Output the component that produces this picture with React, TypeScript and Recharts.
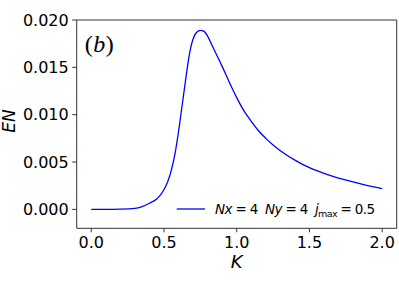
import React from 'react';
import { LineChart, Line, XAxis, YAxis } from 'recharts';

const kValues = [
  0.0, 0.1, 0.2, 0.3, 0.35, 0.4, 0.45, 0.475, 0.5, 0.525, 0.55, 0.575, 0.6, 0.625,
  0.65, 0.675, 0.7, 0.725, 0.75, 0.775, 0.8, 0.825, 0.85, 0.875, 0.9, 0.95, 1.0,
  1.05, 1.1, 1.15, 1.2, 1.25, 1.3, 1.4, 1.5, 1.6, 1.7, 1.8, 1.9, 2.0,
];
const enValues = [
  0.0, 0.0, 0.00002, 0.0001, 0.0003, 0.00065, 0.0011, 0.0015, 0.0021, 0.0029, 0.0041,
  0.0058, 0.0082, 0.011, 0.0138, 0.0164, 0.018, 0.0187, 0.0189, 0.0188, 0.0183,
  0.0175, 0.0167, 0.0159, 0.0151, 0.0134, 0.0118, 0.0104, 0.0093, 0.0083, 0.0075,
  0.0068, 0.0062, 0.0052, 0.0044, 0.0038, 0.0033, 0.0029, 0.0025, 0.0022,
];
const xTicks = [0, 0.5, 1, 1.5, 2];
const xTickLabels = ['0.0', '0.5', '1.0', '1.5', '2.0'];
const yTicks = [0, 0.005, 0.01, 0.015, 0.02];
const yTickLabels = ['0.000', '0.005', '0.010', '0.015', '0.020'];
const xDomain = [-0.1, 2.1];
const yDomain = [-0.002, 0.02];

const data = kValues.map((k, i) => ({ k, en: enValues[i] }));

const W = 399;
const H = 285;
const M_TOP = 20;
const M_RIGHT = 2.3;
const Y_AXIS_W = 76.7;
const X_AXIS_H = 56.7;
const axisColor = '#333';
const tickFont = { fill: '#000', fontSize: 16, fontFamily: 'DejaVu Sans' };

const fmtX = (v: number) => {
  const i = xTicks.findIndex((t) => Math.abs(t - v) < 1e-9);
  return i >= 0 ? xTickLabels[i] : String(v);
};
const fmtY = (v: number) => {
  const i = yTicks.findIndex((t) => Math.abs(t - v) < 1e-9);
  return i >= 0 ? yTickLabels[i] : String(v);
};

export default function App() {
  const plotRight = W - M_RIGHT;
  const plotBottom = H - X_AXIS_H;
  return (
    <div style={{ position: 'absolute', left: 0, top: 0, width: W, height: H }}>
      <LineChart
        width={W}
        height={H}
        data={data}
        margin={{ top: M_TOP, right: M_RIGHT, left: 0, bottom: 0 }}
      >
        <XAxis
          dataKey="k"
          type="number"
          domain={xDomain}
          ticks={xTicks}
          tickFormatter={fmtX}
          allowDataOverflow
          height={X_AXIS_H}
          tick={tickFont}
          tickSize={4}
          tickMargin={4.5}
          axisLine={{ stroke: axisColor, strokeWidth: 1 }}
          tickLine={{ stroke: axisColor, strokeWidth: 1 }}
        />
        <YAxis
          type="number"
          domain={yDomain}
          ticks={yTicks}
          tickFormatter={fmtY}
          allowDataOverflow
          width={Y_AXIS_W}
          tick={tickFont}
          tickSize={4.5}
          tickMargin={3.5}
          axisLine={{ stroke: axisColor, strokeWidth: 1 }}
          tickLine={{ stroke: axisColor, strokeWidth: 1 }}
        />
        <Line
          type="monotone"
          dataKey="en"
          stroke="#0000ff"
          strokeWidth={1.3}
          dot={false}
          isAnimationActive={false}
        />
      </LineChart>
      <svg
        width={W}
        height={H}
        style={{ position: 'absolute', left: 0, top: 0, pointerEvents: 'none', overflow: 'visible' }}
      >
        <line x1={Y_AXIS_W} y1={M_TOP} x2={plotRight} y2={M_TOP} stroke={axisColor} strokeWidth={1} />
        <line x1={plotRight} y1={M_TOP} x2={plotRight} y2={plotBottom} stroke={axisColor} strokeWidth={1} />
        <text x={84.7} y={51.5} fontFamily="Liberation Serif" fontSize={24} textLength={29} lengthAdjust="spacing">
          (<tspan fontStyle="italic">b</tspan>)
        </text>
        <text x={236.7} y={268} textAnchor="middle" fontFamily="DejaVu Sans" fontStyle="italic" fontSize={18}>
          K
        </text>
        <text
          x={14.5}
          y={121}
          textAnchor="middle"
          fontFamily="DejaVu Sans"
          fontStyle="italic"
          fontSize={17}
          transform="rotate(-90 14.5 121)"
        >
          EN
        </text>
        <line x1={176.7} y1={209} x2={205} y2={209} stroke="#0000ff" strokeWidth={1.3} />
        <text
          x={215}
          y={214.3}
          fontFamily="DejaVu Sans"
          fontSize={13.5}
          textLength={160}
          lengthAdjust="spacing"
          style={{ whiteSpace: 'pre' }}
        >
          <tspan fontStyle="italic">Nx</tspan>
          <tspan>{' = 4  '}</tspan>
          <tspan fontStyle="italic">Ny</tspan>
          <tspan>{' = 4  '}</tspan>
          <tspan fontStyle="italic">j</tspan>
          <tspan fontSize={9.5} dy={3}>max</tspan>
          <tspan dy={-3}>{' = 0.5'}</tspan>
        </text>
      </svg>
    </div>
  );
}
